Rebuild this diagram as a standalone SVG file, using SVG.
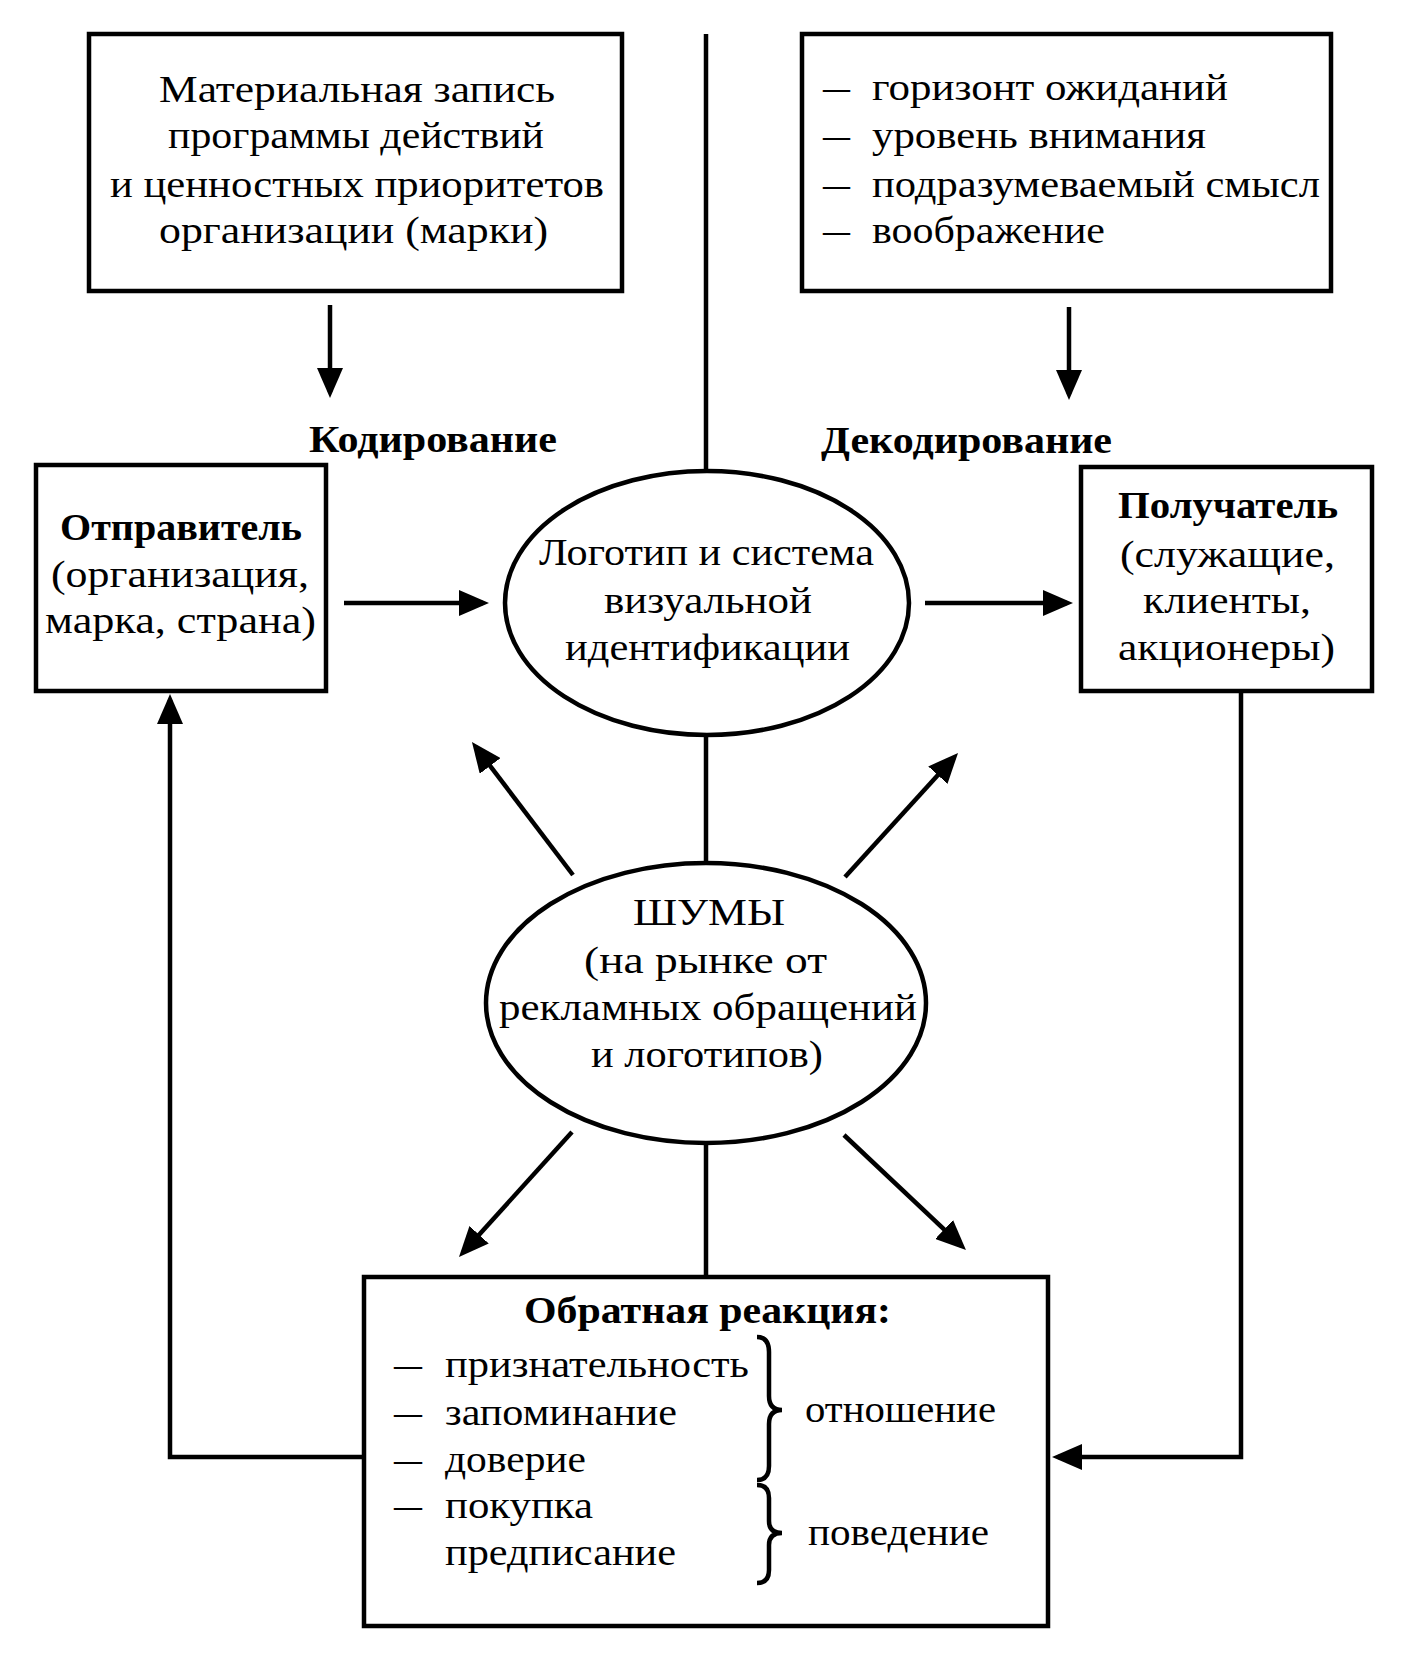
<svg xmlns="http://www.w3.org/2000/svg" width="1404" height="1654" viewBox="0 0 1404 1654">
<style>
.box{fill:#fff;stroke:#000;stroke-width:4.5}
.ell{fill:#fff;stroke:#000;stroke-width:4.5}
.ln{fill:none;stroke:#000;stroke-width:4.5}
.t{font-family:"Liberation Serif","Times New Roman",serif;font-size:38px;fill:#000}
.b{font-family:"Liberation Serif","Times New Roman",serif;font-size:37px;font-weight:bold;fill:#000}
</style>
<defs>
<marker id="ah" markerWidth="30" markerHeight="26" refX="24" refY="13" orient="auto" markerUnits="userSpaceOnUse">
<path d="M0,0 L30,13 L0,26 z" fill="#000"/>
</marker>
</defs>
<rect width="1404" height="1654" fill="#fff"/>

<g id="connectors">
<line class="ln" x1="706" y1="34" x2="706" y2="472"/>
<line class="ln" x1="706" y1="735" x2="706" y2="864"/>
<line class="ln" x1="706" y1="1142" x2="706" y2="1277"/>
<line class="ln" x1="330" y1="305" x2="330" y2="392" marker-end="url(#ah)"/>
<line class="ln" x1="1069" y1="307" x2="1069" y2="394" marker-end="url(#ah)"/>
<line class="ln" x1="344" y1="603" x2="483" y2="603" marker-end="url(#ah)"/>
<line class="ln" x1="925" y1="603" x2="1067" y2="603" marker-end="url(#ah)"/>
<line class="ln" x1="573" y1="875" x2="475.6" y2="746.8" marker-end="url(#ah)"/>
<line class="ln" x1="845" y1="877" x2="954" y2="757.4" marker-end="url(#ah)"/>
<line class="ln" x1="572" y1="1132" x2="463" y2="1252.5" marker-end="url(#ah)"/>
<line class="ln" x1="844" y1="1135" x2="961.6" y2="1245.9" marker-end="url(#ah)"/>
<polyline class="ln" points="364,1457 170,1457 170,700" marker-end="url(#ah)"/>
<polyline class="ln" points="1241,693 1241,1457 1058,1457" marker-end="url(#ah)"/>
</g>

<g id="program">
<rect class="box" x="89" y="34" width="533" height="257"/>
<text class="t" x="159" y="102" textLength="396" lengthAdjust="spacingAndGlyphs">Материальная запись</text>
<text class="t" x="168" y="148" textLength="376" lengthAdjust="spacingAndGlyphs">программы действий</text>
<text class="t" x="110" y="197" textLength="494" lengthAdjust="spacingAndGlyphs">и ценностных приоритетов</text>
<text class="t" x="159" y="243" textLength="389" lengthAdjust="spacingAndGlyphs">организации (марки)</text>
</g>

<g id="expectations">
<rect class="box" x="802" y="34" width="529" height="257"/>
<text class="t" x="823" y="100" textLength="27" lengthAdjust="spacingAndGlyphs">—</text>
<text class="t" x="872" y="100" textLength="356" lengthAdjust="spacingAndGlyphs">горизонт ожиданий</text>
<text class="t" x="823" y="148" textLength="27" lengthAdjust="spacingAndGlyphs">—</text>
<text class="t" x="872" y="148" textLength="334" lengthAdjust="spacingAndGlyphs">уровень внимания</text>
<text class="t" x="823" y="197" textLength="27" lengthAdjust="spacingAndGlyphs">—</text>
<text class="t" x="872" y="197" textLength="448" lengthAdjust="spacingAndGlyphs">подразумеваемый смысл</text>
<text class="t" x="823" y="243" textLength="27" lengthAdjust="spacingAndGlyphs">—</text>
<text class="t" x="872" y="243" textLength="233" lengthAdjust="spacingAndGlyphs">воображение</text>
</g>

<g id="label-coding">
<text class="b" x="309" y="452" textLength="248" lengthAdjust="spacingAndGlyphs">Кодирование</text>
</g>
<g id="label-decoding">
<text class="b" x="821" y="453" textLength="291" lengthAdjust="spacingAndGlyphs">Декодирование</text>
</g>

<g id="sender">
<rect class="box" x="36" y="465" width="290" height="226"/>
<text class="b" x="60" y="540" textLength="242" lengthAdjust="spacingAndGlyphs">Отправитель</text>
<text class="t" x="51" y="587" textLength="258" lengthAdjust="spacingAndGlyphs">(организация,</text>
<text class="t" x="45" y="633" textLength="271" lengthAdjust="spacingAndGlyphs">марка, страна)</text>
</g>

<g id="logo">
<ellipse class="ell" cx="707" cy="603" rx="202" ry="132"/>
<text class="t" x="539" y="565" textLength="335" lengthAdjust="spacingAndGlyphs">Логотип и система</text>
<text class="t" x="604" y="613" textLength="208" lengthAdjust="spacingAndGlyphs">визуальной</text>
<text class="t" x="565" y="660" textLength="285" lengthAdjust="spacingAndGlyphs">идентификации</text>
</g>

<g id="receiver">
<rect class="box" x="1081" y="467" width="291" height="224"/>
<text class="b" x="1118" y="518" textLength="220" lengthAdjust="spacingAndGlyphs">Получатель</text>
<text class="t" x="1120" y="567" textLength="215" lengthAdjust="spacingAndGlyphs">(служащие,</text>
<text class="t" x="1143" y="613" textLength="168" lengthAdjust="spacingAndGlyphs">клиенты,</text>
<text class="t" x="1118" y="660" textLength="217" lengthAdjust="spacingAndGlyphs">акционеры)</text>
</g>

<g id="noise">
<ellipse class="ell" cx="706" cy="1003" rx="220" ry="140"/>
<text class="t" x="633" y="925" textLength="152" lengthAdjust="spacingAndGlyphs">ШУМЫ</text>
<text class="t" x="584" y="973" textLength="243" lengthAdjust="spacingAndGlyphs">(на рынке от</text>
<text class="t" x="499" y="1020" textLength="418" lengthAdjust="spacingAndGlyphs">рекламных обращений</text>
<text class="t" x="591" y="1067" textLength="232" lengthAdjust="spacingAndGlyphs">и логотипов)</text>
</g>

<g id="feedback">
<rect class="box" x="364" y="1277" width="684" height="349"/>
<text class="b" x="524" y="1323" textLength="367" lengthAdjust="spacingAndGlyphs">Обратная реакция:</text>
<text class="t" x="394" y="1377" textLength="28" lengthAdjust="spacingAndGlyphs">—</text>
<text class="t" x="445" y="1377" textLength="304" lengthAdjust="spacingAndGlyphs">признательность</text>
<text class="t" x="394" y="1425" textLength="28" lengthAdjust="spacingAndGlyphs">—</text>
<text class="t" x="445" y="1425" textLength="232" lengthAdjust="spacingAndGlyphs">запоминание</text>
<text class="t" x="394" y="1472" textLength="28" lengthAdjust="spacingAndGlyphs">—</text>
<text class="t" x="445" y="1472" textLength="141" lengthAdjust="spacingAndGlyphs">доверие</text>
<text class="t" x="394" y="1518" textLength="28" lengthAdjust="spacingAndGlyphs">—</text>
<text class="t" x="445" y="1518" textLength="148" lengthAdjust="spacingAndGlyphs">покупка</text>
<text class="t" x="445" y="1565" textLength="231" lengthAdjust="spacingAndGlyphs">предписание</text>
<path class="ln" d="M757,1337 Q769,1337 769,1352 L769,1396 Q769,1410 782,1410 Q769,1410 769,1424 L769,1466 Q769,1480 757,1480"/>
<path class="ln" d="M757,1485 Q769,1485 769,1498 L769,1521 Q769,1533 782,1533 Q769,1533 769,1545 L769,1570 Q769,1583 757,1583"/>
<text class="t" x="805" y="1422" textLength="191" lengthAdjust="spacingAndGlyphs">отношение</text>
<text class="t" x="808" y="1545" textLength="181" lengthAdjust="spacingAndGlyphs">поведение</text>
</g>
</svg>
